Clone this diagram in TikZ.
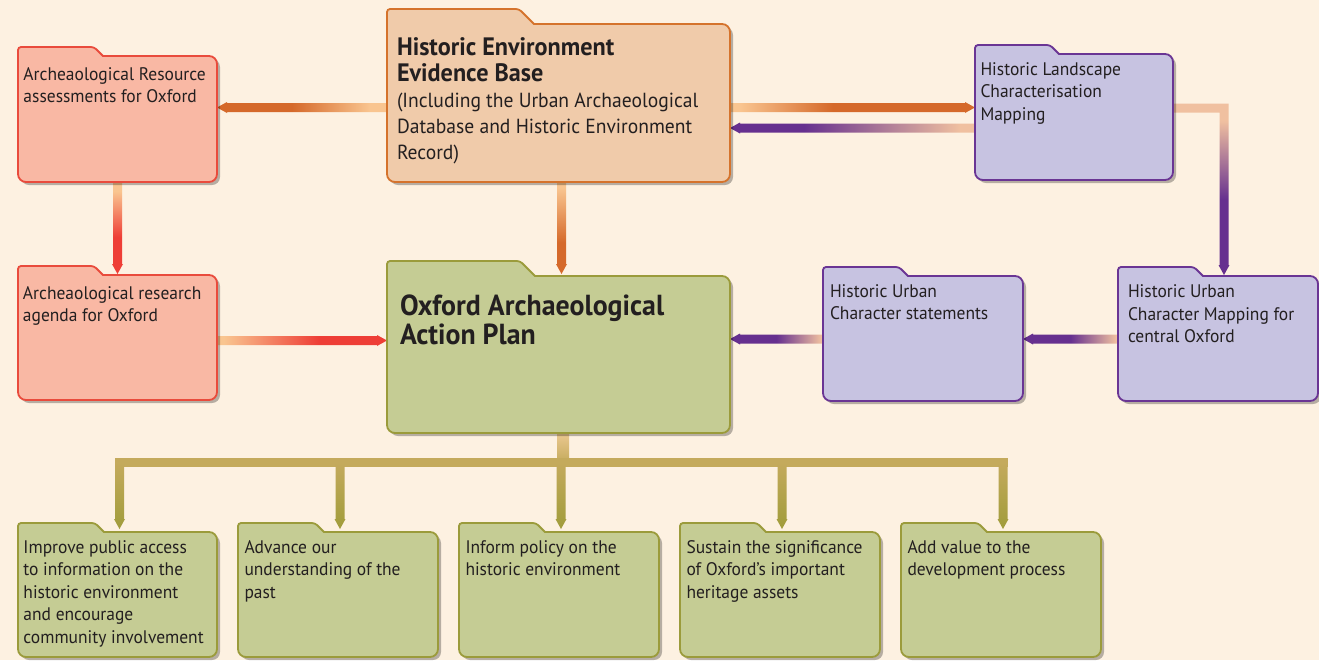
\documentclass[tikz,border=0pt]{standalone}
\usepackage{fontspec}
\setmainfont{PT Sans}[FakeStretch=0.96]
\usetikzlibrary{calc,fit,shadows}
\definecolor{bg}{HTML}{FDF1E1}
\definecolor{ink}{HTML}{231F20}
\definecolor{redfill}{HTML}{F9B8A4}
\definecolor{redline}{HTML}{E94B3C}
\definecolor{orfill}{HTML}{F0CBAA}
\definecolor{orline}{HTML}{D5732C}
\definecolor{purfill}{HTML}{C7C3E1}
\definecolor{purline}{HTML}{6A3594}
\definecolor{grfill}{HTML}{C5CC94}
\definecolor{grline}{HTML}{9B9B3B}
\definecolor{orD}{HTML}{D5692A}
\definecolor{peach}{HTML}{F9C590}
\definecolor{peachP}{HTML}{F0C0A0}
\definecolor{purD}{HTML}{66308F}
\definecolor{redD}{HTML}{EE3E36}
\definecolor{gold}{HTML}{C4AA5C}
\definecolor{olive}{HTML}{A09C3A}
\definecolor{stemL}{HTML}{EBC890}
\pgfdeclarehorizontalshading{shHA}{100bp}{color(0bp)=(orD); color(47bp)=(orD); color(70bp)=(peach); color(100bp)=(peach)}
\pgfdeclarehorizontalshading{shHH}{100bp}{color(0bp)=(peach); color(27bp)=(peach); color(46bp)=(orD); color(100bp)=(orD)}
\pgfdeclarehorizontalshading{shPL}{100bp}{color(0bp)=(purD); color(40bp)=(purD); color(72bp)=(peachP); color(100bp)=(peachP)}
\pgfdeclarehorizontalshading{shPS}{100bp}{color(0bp)=(purD); color(50bp)=(purD); color(74bp)=(peachP); color(100bp)=(peachP)}
\pgfdeclarehorizontalshading{shRR}{100bp}{color(0bp)=(peach); color(27bp)=(peach); color(55bp)=(redD); color(100bp)=(redD)}
\pgfdeclareverticalshading{shAV}{100bp}{color(0bp)=(redD); color(45bp)=(redD); color(70bp)=(peach); color(100bp)=(peach)}
\pgfdeclareverticalshading{shHV}{100bp}{color(0bp)=(orD); color(42bp)=(orD); color(72bp)=(peach); color(100bp)=(peach)}
\pgfdeclareverticalshading{shLV}{100bp}{color(0bp)=(purD); color(47bp)=(purD); color(70bp)=(peachP); color(100bp)=(peachP)}
\tikzset{
  boxshadow/.style={drop shadow={shadow xshift=1.5pt,shadow yshift=-1.5pt,opacity=0.28,fill=black}},
  txt/.style={anchor=base west,inner sep=0,outer sep=0,text=ink,font=\fontsize{9.1}{11.25}\selectfont},
}
\newcommand\lines[1]{\begin{tabular}[t]{@{}l@{}}#1\end{tabular}}
\newcommand\bodynode[5]{\node[fit={(#2,#3) (#4,#5)},inner sep=0,outer sep=0] (#1) {};}
% #1 name, #2 tab length, #3 tab height, #4 fill, #5 line
\newcommand\folder[5]{\draw[line width=0.9pt,draw=#5,fill=#4,boxshadow]
  (#1.west) [rounded corners=1.5pt] -- ($(#1.north west)+(0,-#3)$) -- ($(#1.north west)+(#2,-#3)$)
  [sharp corners] -- ($(#1.north west)+(#2+#3,0)$) [rounded corners=4pt] -- (#1.north east)
  -- (#1.south east) -- (#1.south west) -- cycle;}
\newcommand\arrowR[3]{\shade[#3] ($(#1)+(0,-4.5)$) -- ($(#2)+(-10,-4.5)$) -- ($(#2)+(-10,-5.5)$) -- (#2)
  -- ($(#2)+(-10,5.5)$) -- ($(#2)+(-10,4.5)$) -- ($(#1)+(0,4.5)$) -- cycle;}
\newcommand\arrowL[3]{\shade[#3] ($(#1)+(0,-4.5)$) -- ($(#2)+(10,-4.5)$) -- ($(#2)+(10,-5.5)$) -- (#2)
  -- ($(#2)+(10,5.5)$) -- ($(#2)+(10,4.5)$) -- ($(#1)+(0,4.5)$) -- cycle;}
\newcommand\arrowD[3]{\shade[#3] ($(#1)+(-4.5,0)$) -- ($(#2)+(-4.5,-10)$) -- ($(#2)+(-5.5,-10)$) -- (#2)
  -- ($(#2)+(5.5,-10)$) -- ($(#2)+(4.5,-10)$) -- ($(#1)+(4.5,0)$) -- cycle;}
\begin{document}
\begin{tikzpicture}[x=0.5pt,y=-0.5pt]
\fill[bg] (0,0) rectangle (1319,660);
\useasboundingbox (0,0) rectangle (1319,660);
% box bodies
\bodynode{ara}{18}{56}{217}{182}
\bodynode{heeb}{387}{24}{730}{182}
\bodynode{hlc}{975}{54}{1173}{180}
\bodynode{rag}{18}{275}{217}{400}
\bodynode{oap}{387}{276}{730}{433}
\bodynode{hucs}{823}{276}{1023}{401}
\bodynode{hucm}{1118}{276}{1318}{401}
\bodynode{b1}{18}{532}{217}{657}
\bodynode{b2}{238}{532}{438}{657}
\bodynode{b3}{459}{532}{659}{657}
\bodynode{b4}{680}{532}{880}{657}
\bodynode{b5}{901}{532}{1101}{657}
% connector end points
\coordinate (hA1) at (heeb.west |- 0,107.5);
\coordinate (hA2) at (ara.east |- 0,107.5);
\coordinate (hH1) at (heeb.east |- 0,107.5);
\coordinate (hH2) at (hlc.west |- 0,107.5);
\coordinate (lH1) at (hlc.west |- 0,128);
\coordinate (lH2) at (heeb.east |- 0,128);
\coordinate (rO1) at (rag.east |- 0,340.5);
\coordinate (rO2) at (oap.west |- 0,340.5);
\coordinate (sO1) at (hucs.west |- 0,339);
\coordinate (sO2) at (oap.east |- 0,339);
\coordinate (mS1) at (hucm.west |- 0,339);
\coordinate (mS2) at (hucs.east |- 0,339);
\coordinate (hO1) at ($(heeb.south)+(3,0)$);
\coordinate (hO2) at ($(oap.north)+(3,-2)$);
\coordinate (aR1) at (ara.south);
\coordinate (aR2) at ($(rag.north)+(0,-1)$);
\coordinate (lT) at ($(hucm.north)+(6,-1)$);
\coordinate (lS) at (hlc.east |- 0,108);
\coordinate (lC) at (lT |- lS);
% arrows
\arrowL{hA1}{hA2}{shading=shHA}
\arrowR{hH1}{hH2}{shading=shHH}
\arrowL{lH1}{lH2}{shading=shPL}
\arrowR{rO1}{rO2}{shading=shRR}
\arrowL{sO1}{sO2}{shading=shPS}
\arrowL{mS1}{mS2}{shading=shPS}
\arrowD{hO1}{hO2}{shading=shHV}
\arrowD{aR1}{aR2}{shading=shAV}
\shade[shading=shLV] ($(lS)+(0,-4.5)$) -- ($(lC)+(4.5,-4.5)$) -- ($(lT)+(4.5,-10)$) -- ($(lT)+(5.5,-10)$)
  -- (lT) -- ($(lT)+(-5.5,-10)$) -- ($(lT)+(-4.5,-10)$) -- ($(lC)+(-4.5,4.5)$) -- ($(lS)+(0,4.5)$) -- cycle;
% bus to bottom boxes
\coordinate (busC) at ($(oap.south)+(3,29.5)$);
\foreach \i in {1,...,5}{
  \coordinate (d\i) at ($(b\i.north)+(2,-3)$);
  \coordinate (u\i) at (busC -| d\i);
}
\shade[top color=stemL,bottom color=gold] ($(oap.south)+(-1.5,0)$) rectangle ($(busC)+(7.5,0)$);
\fill[gold] ($(u1)+(-4.5,-4.5)$) rectangle ($(u5)+(4.5,4.5)$);
\foreach \i in {1,...,5}{
  \arrowD{u\i}{d\i}{top color=gold,bottom color=olive}
}
% folders
\folder{ara}{76}{9}{redfill}{redline}
\folder{rag}{76}{9}{redfill}{redline}
\folder{heeb}{132}{15}{orfill}{orline}
\folder{oap}{133}{15}{grfill}{grline}
\folder{hlc}{75}{9}{purfill}{purline}
\folder{hucs}{76}{9}{purfill}{purline}
\folder{hucm}{76}{9}{purfill}{purline}
\foreach \i in {1,...,5}{\folder{b\i}{77}{9}{grfill}{grline}}
% texts
\node[txt] (ara-t) at (23.5,80) {\lines{Archeaological Resource\\assessments for Oxford}};
\node[txt,font=\fontsize{10.2}{13}\selectfont] (heeb-t) at (397,55) {\lines{{\bfseries\fontsize{12.6}{13}\selectfont Historic Environment}\\{\bfseries\fontsize{12.6}{13}\selectfont Evidence Base}\\(Including the Urban Archaeological\\Database and Historic Environment\\Record)}};
\node[txt] (hlc-t) at (980.5,75) {\lines{Historic Landscape\\Characterisation\\Mapping}};
\node[txt] (rag-t) at (23,299.3) {\lines{Archeaological research\\agenda for Oxford}};
\node[txt,font=\bfseries\fontsize{14.5}{14.5}\selectfont] (oap-t) at (400,315) {\lines{Oxford Archaeological\\Action Plan}};
\node[txt] (hucs-t) at (830,297) {\lines{Historic Urban\\Character statements}};
\node[txt] (hucm-t) at (1128,297.5) {\lines{Historic Urban\\Character Mapping for\\central Oxford}};
\node[txt] (b1-t) at (23.5,553) {\lines{Improve public access\\to information on the\\historic environment\\and encourage\\community involvement}};
\node[txt] (b2-t) at (244.5,553) {\lines{Advance our\\understanding of the\\past}};
\node[txt] (b3-t) at (465.5,553) {\lines{Inform policy on the\\historic environment}};
\node[txt] (b4-t) at (686.5,553) {\lines{Sustain the significance\\of Oxford’s important\\heritage assets}};
\node[txt] (b5-t) at (907.5,553) {\lines{Add value to the\\development process}};
\end{tikzpicture}
\end{document}
